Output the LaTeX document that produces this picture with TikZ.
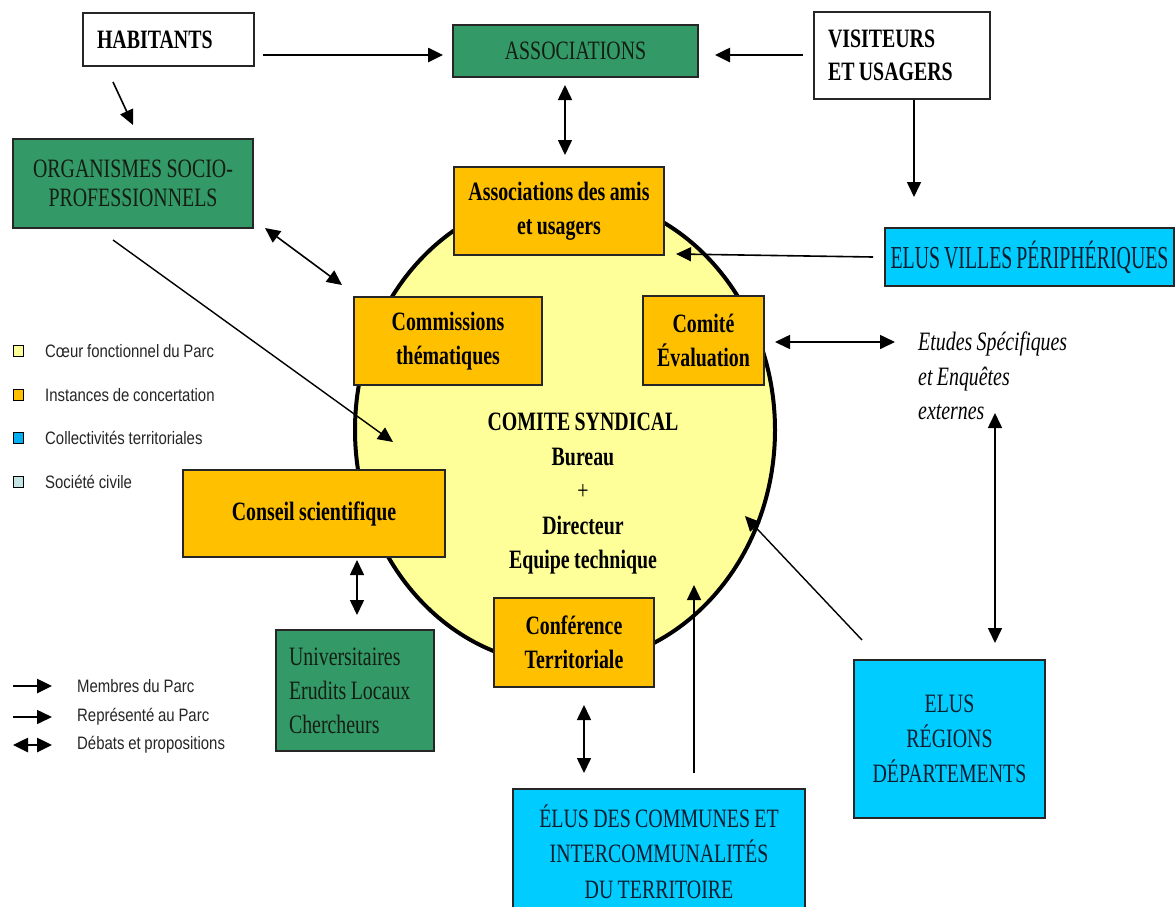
\documentclass[tikz,border=0pt]{standalone}
\usepackage{fontspec}
\setmainfont{Liberation Serif}
\newfontfamily\srf{Liberation Serif}[FakeStretch=0.75,WordSpace=0.88]
\newfontfamily\srfv{Liberation Serif}[FakeStretch=0.62,WordSpace=0.8]
\newfontfamily\lgf{Liberation Sans}[FakeStretch=0.83,WordSpace=0.9]
\usetikzlibrary{arrows.meta,shapes.geometric}
\definecolor{pgreen}{HTML}{339966}
\definecolor{porange}{HTML}{FFC000}
\definecolor{pyellow}{HTML}{FFFF99}
\definecolor{pcyan}{HTML}{00CCFF}
\definecolor{lcyan}{HTML}{00B0F0}
\definecolor{lcivil}{HTML}{C2E4E4}
\definecolor{dtext}{HTML}{141E14}
\definecolor{ctext}{HTML}{0A1E30}
\tikzset{
  box/.style={draw=black!85, line width=1.2pt, inner sep=0pt, align=center,
    font=\srf\fontsize{26.5}{34}\selectfont},
  wbox/.style={box, fill=white, font=\srf\bfseries\fontsize{26.5}{33}\selectfont},
  gbox/.style={box, fill=pgreen, text=dtext},
  obox/.style={box, fill=porange, font=\srf\bfseries\fontsize{26.5}{34}\selectfont},
  cbox/.style={box, fill=pcyan, text=ctext},
  tipA/.tip={Triangle[length=15pt,width=14pt]},
  arr/.style={-tipA, line width=1.6pt},
  arrk/.style={-tipA, line width=2.6pt},
  dbl/.style={tipA-tipA, line width=1.6pt},
  legsq/.style={draw=black, line width=0.8pt, minimum width=10pt, minimum height=11pt, inner sep=0pt},
  legtx/.style={anchor=west, inner sep=0pt, font=\lgf\fontsize{18}{20}\selectfont, text=black!85}
}
\begin{document}
\begin{tikzpicture}[x=1pt,y=-1pt]
\useasboundingbox (0,0) rectangle (1176,906);
\fill[white] (0,0) rectangle (1176,906);

% central circle
\node[ellipse, draw=black, line width=4pt, fill=pyellow, minimum width=420pt, minimum height=470pt, inner sep=0pt] (coeur) at (565,430) {};

% boxes
\node[wbox, minimum width=171pt, minimum height=53pt, text width=143pt, align=flush left] (hab) at (168.5,39.5) {HABITANTS};
\node[gbox, minimum width=245pt, minimum height=52pt] (assoc) at (575.5,51) {ASSOCIATIONS};
\node[wbox, minimum width=176pt, minimum height=87pt, text width=148pt, align=flush left] (vis) at (902,55.5) {VISITEURS\\ET USAGERS};
\node[gbox, minimum width=240pt, minimum height=89pt, font=\srf\fontsize{26.5}{29}\selectfont] (org) at (133,183.5) {ORGANISMES SOCIO-\\PROFESSIONNELS};
\node[obox, minimum width=210pt, minimum height=88pt] (amis) at (559,211) {Associations des amis\\et usagers};
\node[cbox, minimum width=289pt, minimum height=58pt, font=\srfv\fontsize{32}{34}\selectfont] (villes) at (1029.5,257) {ELUS VILLES PÉRIPHÉRIQUES};
\node[obox, minimum width=188pt, minimum height=88pt] (comm) at (448,341) {Commissions\\thématiques};
\node[obox, minimum width=121pt, minimum height=89pt] (eval) at (703.5,340.5) {Comité\\Évaluation};
\node[obox, minimum width=262pt, minimum height=87pt] (conseil) at (314,513.5) {Conseil scientifique};
\node[gbox, minimum width=158pt, minimum height=121pt, text width=132pt, align=flush left] (univ) at (355,690.5) {Universitaires\\Erudits Locaux\\Chercheurs};
\node[obox, minimum width=160pt, minimum height=89pt] (conf) at (574,642.5) {Conférence\\Territoriale};
\node[cbox, minimum width=292pt, minimum height=125pt, font=\srf\fontsize{26.5}{35.5}\selectfont] (communes) at (659,851.5) {ÉLUS DES COMMUNES ET\\INTERCOMMUNALITÉS\\DU TERRITOIRE};
\node[cbox, minimum width=191pt, minimum height=158pt, font=\srf\fontsize{26.5}{35}\selectfont] (regions) at (949.5,739) {ELUS\\RÉGIONS\\DÉPARTEMENTS};

% central text
\node[inner sep=0pt, align=center, font=\srf\bfseries\fontsize{26.5}{34.5}\selectfont] (cs) at (583,494) {COMITE SYNDICAL\\Bureau\\{\mdseries +}\\Directeur\\Equipe technique};
\node[anchor=west, inner sep=0pt, align=left, font=\srf\itshape\fontsize{26.5}{34.5}\selectfont] (etu) at (918,376) {Etudes Spécifiques\\et Enquêtes\\externes};

% connector end points
\coordinate (a1s) at (263,55);  \coordinate (a1e) at (443,55);
\coordinate (a2s) at (803,55);  \coordinate (a2e) at (715,55);
\coordinate (a3s) at (113,82);  \coordinate (a3e) at (133,125);
\coordinate (a4s) at (565,85);  \coordinate (a4e) at (565,155);
\coordinate (a5s) at (914,100); \coordinate (a5e) at (914,197);
\coordinate (a6s) at (873,257); \coordinate (a6e) at (676,254);
\coordinate (a7s) at (265,228); \coordinate (a7e) at (342,285);
\coordinate (a8s) at (113,240); \coordinate (a8e) at (393,442);
\coordinate (a9s) at (775,342); \coordinate (a9e) at (895,342);
\coordinate (a10s) at (995,413); \coordinate (a10e) at (995,643);
\coordinate (a11s) at (862,640); \coordinate (a11e) at (745,516);
\coordinate (a12s) at (694,773); \coordinate (a12e) at (694,585);
\coordinate (a13s) at (584,705); \coordinate (a13e) at (584,773);
\coordinate (a14s) at (357,560); \coordinate (a14e) at (357,615);

\draw[arrk] (a1s) -- (a1e);
\draw[arrk] (a2s) -- (a2e);
\draw[arr] (a3s) -- (a3e);
\draw[dbl] (a4s) -- (a4e);
\draw[arr] (a5s) -- (a5e);
\draw[arr] (a6s) -- (a6e);
\draw[dbl] (a7s) -- (a7e);
\draw[arr, line width=1.4pt] (a8s) -- (a8e);
\draw[dbl] (a9s) -- (a9e);
\draw[dbl] (a10s) -- (a10e);
\draw[arr, line width=1.4pt] (a11s) -- (a11e);
\draw[arr, line width=1.4pt] (a12s) -- (a12e);
\draw[dbl] (a13s) -- (a13e);
\draw[dbl] (a14s) -- (a14e);

% legend
\node[legsq, fill=pyellow] (l1) at (18,351) {};
\node[legsq, fill=porange] (l2) at (18,395) {};
\node[legsq, fill=lcyan] (l3) at (18,438) {};
\node[legsq, fill=lcivil] (l4) at (18,482) {};
\node[legtx] (t1) at (45,351) {Cœur fonctionnel du Parc};
\node[legtx] (t2) at (45,395) {Instances de concertation};
\node[legtx] (t3) at (45,438) {Collectivités territoriales};
\node[legtx] (t4) at (45,482) {Société civile};

\coordinate (m1s) at (13,686); \coordinate (m1e) at (52,686);
\coordinate (m2s) at (13,717); \coordinate (m2e) at (52,717);
\coordinate (m3s) at (13,745); \coordinate (m3e) at (52,745);
\draw[arrk] (m1s) -- (m1e);
\draw[arr] (m2s) -- (m2e);
\draw[dbl, line width=2.6pt] (m3s) -- (m3e);
\node[legtx] (t5) at (77,686) {Membres du Parc};
\node[legtx] (t6) at (77,717) {Représenté au Parc};
\node[legtx] (t7) at (77,745) {Débats et propositions};
\end{tikzpicture}
\end{document}
